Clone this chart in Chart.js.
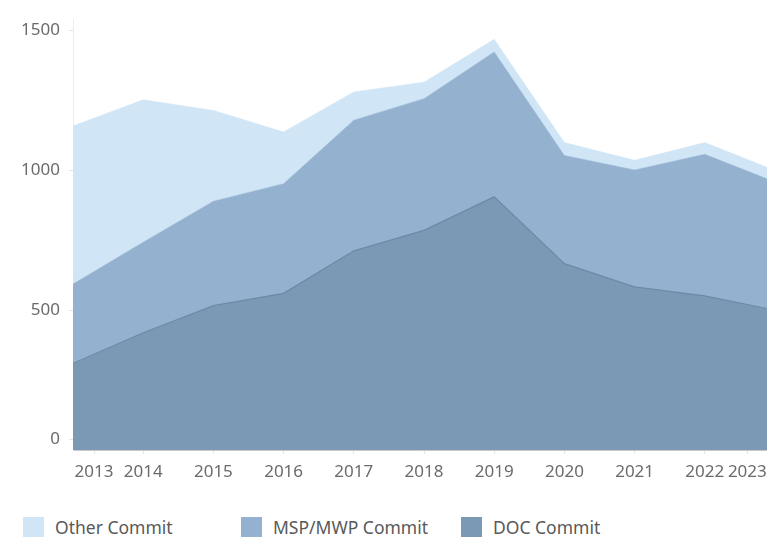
<!DOCTYPE html>
<html>
<head>
<meta charset="utf-8">
<script src="https://cdn.jsdelivr.net/npm/chart.js@4"></script>
<style>
  body { margin: 0; background: #fff; overflow: hidden; width: 767px; height: 539px; font-family: "Noto Sans", sans-serif; }
  #wrap { position: relative; width: 767px; height: 490px; }
  .legend { position: absolute; top: 517px; left: 0; width: 767px; height: 22px; }
  .item { position: absolute; top: 0; display: flex; align-items: center; font-size: 17.5px; color: #595959; line-height: 20px; }
  .sw { width: 21px; height: 20px; margin-right: 11px; }
</style>
</head>
<body>
<div id="wrap"><canvas id="chart" width="767" height="490"></canvas></div>
<div class="legend">
  <div class="item" style="left:23px"><span class="sw" style="background:#d0e5f5"></span>Other Commit</div>
  <div class="item" style="left:241px"><span class="sw" style="background:#94b2d0"></span>MSP/MWP Commit</div>
  <div class="item" style="left:461px"><span class="sw" style="background:#7b98b4"></span>DOC Commit</div>
</div>
<script>
const years = [2013, 2014, 2015, 2016, 2017, 2018, 2019, 2020, 2021, 2022, 2023];
const docCommit = [310, 419, 516, 560, 712, 785, 905, 666, 583, 551, 500];
const mspCommit = [283, 324, 373, 392, 467, 471, 518, 387, 418, 506, 458];
const otherCommit = [565, 509, 325, 185, 101, 59, 45, 46, 35, 42, 41];
const yTicks = [0, 500, 1000, 1500];

const xMin = 2013;
const xMax = 2022.886;
const yMax = 1540;

function points(values) {
  return years.map((y, i) => ({ x: y, y: values[i] }));
}

const tickFont = { family: 'Noto Sans', size: 17 };

const ctx = document.getElementById('chart').getContext('2d');
new Chart(ctx, {
  type: 'line',
  data: {
    datasets: [
      {
        label: 'DOC Commit',
        data: points(docCommit),
        backgroundColor: '#7b98b4',
        borderColor: '#6a8aa9',
        borderWidth: 1.2,
        fill: 'origin',
        pointRadius: 0
      },
      {
        label: 'MSP/MWP Commit',
        data: points(mspCommit),
        backgroundColor: '#94b2d0',
        borderColor: '#94b2d0',
        borderWidth: 0.5,
        fill: '-1',
        pointRadius: 0
      },
      {
        label: 'Other Commit',
        data: points(otherCommit),
        backgroundColor: '#d0e5f5',
        borderColor: '#d0e5f5',
        borderWidth: 0.5,
        fill: '-1',
        pointRadius: 0
      }
    ]
  },
  options: {
    responsive: false,
    animation: false,
    layout: { padding: { top: 8, right: 0, left: 0, bottom: 0 } },
    plugins: { legend: { display: false }, tooltip: { enabled: false } },
    scales: {
      x: {
        type: 'linear',
        min: xMin,
        max: xMax,
        afterBuildTicks: (scale) => {
          // keep the edge year labels pulled inside the plot, like the original
          scale.ticks = years.map(y => ({ value: Math.min(Math.max(y, xMin + 0.3), xMax - 0.28) }));
        },
        afterFit: (scale) => {
          scale.height = 40;
          // the original is cut off at the right, so let the last label run out
          scale.paddingRight = 0;
          scale.paddingLeft = 0;
        },
        grid: { display: true, drawOnChartArea: false, tickLength: 4, color: '#e4e4e4' },
        border: { color: '#c8c8c8' },
        ticks: {
          autoSkip: false,
          maxRotation: 0,
          padding: 8,
          color: '#6b6b6b',
          font: tickFont,
          callback: (v) => String(Math.round(v))
        }
      },
      y: {
        stacked: true,
        min: 0,
        max: yMax,
        afterBuildTicks: (scale) => {
          // the zero label sits a bit above the baseline in the original
          scale.ticks = yTicks.map(v => ({ value: Math.max(v, 38) }));
        },
        afterFit: (scale) => { scale.width = 73; },
        grid: { display: true, drawOnChartArea: false, tickLength: 4, color: '#e4e4e4' },
        border: { color: '#ececec' },
        ticks: {
          padding: 9,
          color: '#6b6b6b',
          font: tickFont,
          callback: (v) => String(Math.round(v / 500) * 500)
        }
      }
    }
  }
});
</script>
</body>
</html>
